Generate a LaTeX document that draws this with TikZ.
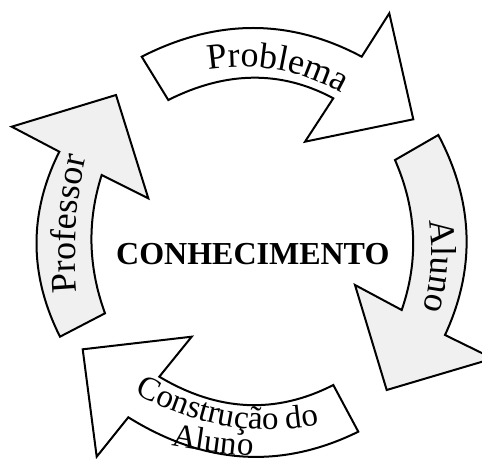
\documentclass[tikz,border=0pt]{standalone}
\usepackage{fontspec}
\setmainfont{Liberation Serif}
\usetikzlibrary{calc,decorations.text}
\definecolor{arrgray}{RGB}{240,240,240}
\newcommand\arcfont{\fontsize{36}{40}\selectfont}
\newcommand\arcfontsm{\fontsize{33}{36}\selectfont}
% quadratic through S (t=0), M (t=0.5), E (t=1), extended to t in [-0.25,1.25]
\newcommand\qcurve[4]{%
  \coordinate (#1C) at ($2*(#3)-0.5*(#2)-0.5*(#4)$);
  \coordinate (#1A) at ($1.5625*(#2)-0.625*(#1C)+0.0625*(#4)$);
  \coordinate (#1B) at ($0.0625*(#2)-0.625*(#1C)+1.5625*(#4)$);
  \coordinate (#1K) at ($1.625*(#1C)-0.3125*(#2)-0.3125*(#4)$);
}
\begin{document}
\begin{tikzpicture}[x=1pt,y=1pt,
  arr/.style={draw=black, line width=2pt, line join=miter, miter limit=10},
  grayarr/.style={arr, fill=arrgray},
  whitearr/.style={arr, fill=white},
  qc/.style={}]
\useasboundingbox (0,0) rectangle (482,458);
\clip (0,0) rectangle (482,458);

% ---------- top arrow (Problema)
\coordinate (t1) at (141.7,401.3);
\coordinate (t1c) at (254.3,458.7);
\coordinate (t2) at (361.7,401.3);
\coordinate (t3) at (389.3,444.7);
\coordinate (t4) at (413.3,338.7);
\coordinate (t5) at (305,316.3);
\coordinate (t6) at (333.3,359.7);
\coordinate (t6c) at (255.2,401.75);
\coordinate (t7) at (168.3,358);
\draw[whitearr] (t1) .. controls ($(t1)!2/3!(t1c)$) and ($(t2)!2/3!(t1c)$) .. (t2)
  -- (t3) -- (t4) -- (t5) -- (t6)
  .. controls ($(t6)!2/3!(t6c)$) and ($(t7)!2/3!(t6c)$) .. (t7) -- cycle;

% ---------- right arrow (Aluno)
\coordinate (r1) at (438.3,323);
\coordinate (r1c) at (491.35,223);
\coordinate (r2) at (445,123);
\coordinate (r3) at (493,99.5);
\coordinate (r4) at (386.7,68);
\coordinate (r5) at (355,173);
\coordinate (r6) at (401.7,148);
\coordinate (r6c) at (427.65,223);
\coordinate (r7) at (395,298);
\draw[grayarr] (r1) .. controls ($(r1)!2/3!(r1c)$) and ($(r2)!2/3!(r1c)$) .. (r2)
  -- (r3) -- (r4) -- (r5) -- (r6)
  .. controls ($(r6)!2/3!(r6c)$) and ($(r7)!2/3!(r6c)$) .. (r7) -- cycle;

% ---------- bottom arrow (Construção do Aluno)
\coordinate (b1) at (333.3,73);
\coordinate (b1c) at (247.1,28.85);
\coordinate (b2) at (159.3,81.3);
\coordinate (b3) at (191.7,121.3);
\coordinate (b4) at (82.7,108.7);
\coordinate (b5) at (96.7,1.3);
\coordinate (b6) at (128.3,40.7);
\coordinate (b6c) at (242.7,-30.5);
\coordinate (b7) at (358.3,26.3);
\draw[whitearr] (b1) .. controls ($(b1)!2/3!(b1c)$) and ($(b2)!2/3!(b1c)$) .. (b2)
  -- (b3) -- (b4) -- (b5) -- (b6)
  .. controls ($(b6)!2/3!(b6c)$) and ($(b7)!2/3!(b6c)$) .. (b7) -- cycle;

% ---------- left arrow (Professor)
\coordinate (l1) at (60,121.3);
\coordinate (l1c) at (13.35,214.2);
\coordinate (l2) at (59.3,306.3);
\coordinate (l3) at (11.7,331.3);
\coordinate (l4) at (116,363);
\coordinate (l5) at (148.3,259.7);
\coordinate (l6) at (101.7,283);
\coordinate (l6c) at (79.65,214.15);
\coordinate (l7) at (105,144.7);
\draw[grayarr] (l1) .. controls ($(l1)!2/3!(l1c)$) and ($(l2)!2/3!(l1c)$) .. (l2)
  -- (l3) -- (l4) -- (l5) -- (l6)
  .. controls ($(l6)!2/3!(l6c)$) and ($(l7)!2/3!(l6c)$) .. (l7) -- cycle;

% ---------- texts
\qcurve{pb}{210,388.7}{278.6,388}{341.7,364.7}
\path[decorate, decoration={text along path, text align=center,
  text={|\arcfont|Problema}}]
  (pbA) .. controls ($(pbA)!2/3!(pbK)$) and ($(pbB)!2/3!(pbK)$) .. (pbB);

\qcurve{al}{429.3,237.3}{431.3,192.3}{423.3,148}
\path[decorate, decoration={text along path, text align=center,
  text={|\arcfont|Aluno}}]
  (alA) .. controls ($(alA)!2/3!(alK)$) and ($(alB)!2/3!(alK)$) .. (alB);

\qcurve{pf}{77.3,161.3}{76,233}{86.7,304.7}
\path[decorate, decoration={text along path, text align=center,
  text={|\arcfont|Professor}}]
  (pfA) .. controls ($(pfA)!2/3!(pfK)$) and ($(pfB)!2/3!(pfK)$) .. (pfB);

\qcurve{cd}{141.7,61.3}{232,31}{320,34}
\path[decorate, decoration={text along path, text align=center,
  text={|\arcfontsm|Construção do}}]
  (cdA) .. controls ($(cdA)!2/3!(cdK)$) and ($(cdB)!2/3!(cdK)$) .. (cdB);

\qcurve{an}{173,12}{211,6}{250,2}
\path[decorate, decoration={text along path, text align=center,
  text={|\arcfontsm|Aluno}}]
  (anA) .. controls ($(anA)!2/3!(anK)$) and ($(anB)!2/3!(anK)$) .. (anB);

\node[font=\bfseries\fontsize{32}{36}\selectfont, anchor=base, inner sep=0pt]
  (center) at (252.8,193) {CONHECIMENTO};
\end{tikzpicture}
\end{document}
